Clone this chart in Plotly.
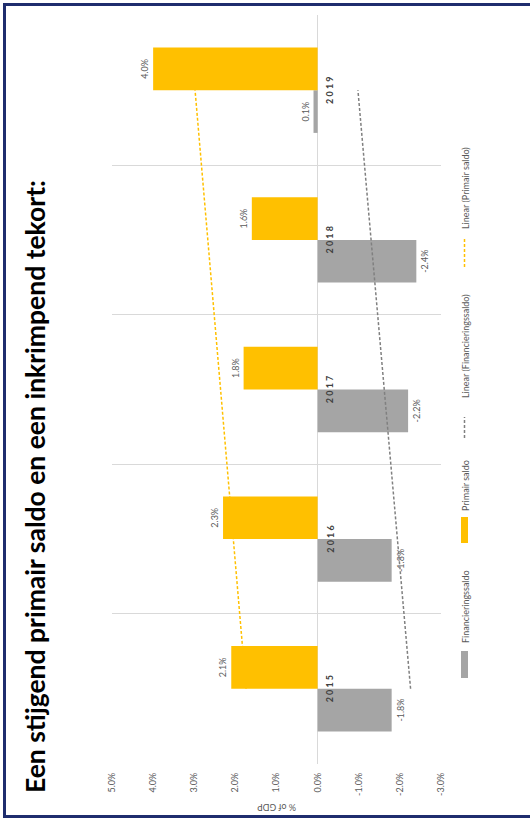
import numpy as np
import plotly.graph_objects as go

# Data (% of GDP)
years = ["2015", "2016", "2017", "2018", "2019"]
financieringssaldo = [-1.8, -1.8, -2.2, -2.4, 0.1]
primair_saldo = [2.1, 2.3, 1.8, 1.6, 4.0]
x_ticks = [5.0, 4.0, 3.0, 2.0, 1.0, 0.0, -1.0, -2.0, -3.0]
x_ticktext = ["5.0%", "4.0%", "3.0%", "2.0%", "1.0%", "0.0%", "-1.0%", "-2.0%", "-3.0%"]

title_text = "Een stijgend primair saldo en een inkrimpend tekort:"
legend_names = ["Financieringssaldo", "Primair saldo",
                "Linear (Financieringssaldo)", "Linear (Primair saldo)"]

GREY = "#A5A5A5"
YELLOW = "#FFC000"
TEXT = "#595959"
NAVY = "#1F2D6E"

W, H = 530, 818
L, R, T, B = 112, 441, 15, 764  # plot area in pixels


def px(x):
    return (x - L) / (R - L)


def py(y):
    return (B - y) / (B - T)


pos = list(range(len(years)))

# Linear trendlines fitted on the series
fin_fit = np.polyval(np.polyfit(pos, financieringssaldo, 1), pos)
prim_fit = np.polyval(np.polyfit(pos, primair_saldo, 1), pos)

fig = go.Figure()

fig.add_trace(go.Scatter(
    x=fin_fit, y=pos, mode="lines", showlegend=False,
    line=dict(color="#808080", width=1.5, dash="3px,2px"), hoverinfo="skip"))
fig.add_trace(go.Scatter(
    x=prim_fit, y=pos, mode="lines", showlegend=False,
    line=dict(color=YELLOW, width=1.5, dash="3px,2px"), hoverinfo="skip"))

fig.add_trace(go.Bar(
    x=financieringssaldo, y=pos, orientation="h", name="Financieringssaldo",
    marker=dict(color=GREY, line=dict(width=0)),
    texttemplate="%{x:.1f}%", textposition="outside", textangle=-90,
    constraintext="none", cliponaxis=False,
    textfont=dict(size=9, color=TEXT), showlegend=False))
fig.add_trace(go.Bar(
    x=primair_saldo, y=pos, orientation="h", name="Primair saldo",
    marker=dict(color=YELLOW, line=dict(width=0)),
    texttemplate="%{x:.1f}%", textposition="outside", textangle=-90,
    constraintext="none", cliponaxis=False,
    textfont=dict(size=9, color=TEXT), showlegend=False))

annotations = []

# Year labels next to the zero line
for i, yr in enumerate(years):
    annotations.append(dict(
        x=0, y=i, xref="x", yref="y", text="<b>" + " ".join(yr) + "</b>",
        textangle=-90, showarrow=False, xshift=12,
        font=dict(size=9, color="#404040"), xanchor="center", yanchor="middle"))

# Axis title
annotations.append(dict(
    x=px(277), y=py(808), xref="paper", yref="paper", text="% of GDP",
    textangle=180, showarrow=False, font=dict(size=9, color=TEXT),
    xanchor="center", yanchor="middle"))

# Main title
annotations.append(dict(
    x=px(35), y=py(487), xref="paper", yref="paper", text="<b>" + title_text + "</b>",
    textangle=-90, showarrow=False, font=dict(size=26.5, color="#000000"),
    xanchor="center", yanchor="middle"))

shapes = []

# Legend
legend_text_centers = [607, 486, 346, 188]
for name, yc in zip(legend_names, legend_text_centers):
    annotations.append(dict(
        x=px(465), y=py(yc), xref="paper", yref="paper", text=name,
        textangle=-90, showarrow=False, font=dict(size=9, color=TEXT),
        xanchor="center", yanchor="middle"))

shapes.append(dict(type="rect", xref="paper", yref="paper",
                   x0=px(461), x1=px(468), y0=py(678), y1=py(651),
                   fillcolor=GREY, line=dict(width=0)))
shapes.append(dict(type="rect", xref="paper", yref="paper",
                   x0=px(461), x1=px(468), y0=py(543), y1=py(517),
                   fillcolor=YELLOW, line=dict(width=0)))
shapes.append(dict(type="line", xref="paper", yref="paper",
                   x0=px(464.5), x1=px(464.5), y0=py(438), y1=py(417),
                   line=dict(color="#808080", width=1.5, dash="3px,2px")))
shapes.append(dict(type="line", xref="paper", yref="paper",
                   x0=px(464.5), x1=px(464.5), y0=py(267), y1=py(237),
                   line=dict(color=YELLOW, width=1.5, dash="3px,2px")))

# Frame
shapes.append(dict(type="rect", xref="paper", yref="paper",
                   x0=px(4.5), x1=px(540), y0=py(816.5), y1=py(4.5),
                   line=dict(color=NAVY, width=3), fillcolor="rgba(0,0,0,0)"))

fig.update_layout(
    width=W, height=H,
    margin=dict(l=L, r=W - R, t=T, b=H - B, pad=0),
    paper_bgcolor="white", plot_bgcolor="white",
    font=dict(family="Lato, Open Sans, sans-serif", color=TEXT),
    barmode="group", bargap=0.43, bargroupgap=0,
    xaxis=dict(
        range=[5.0, -3.0], tickvals=x_ticks, ticktext=x_ticktext,
        tickangle=-90, tickfont=dict(size=9, color=TEXT), ticks="",
        ticklabelstandoff=6, showgrid=False,
        zeroline=True, zerolinecolor="#D9D9D9", zerolinewidth=1, showline=False),
    yaxis=dict(
        range=[-0.503, 4.503], tick0=0.5, dtick=1, showticklabels=False,
        showgrid=True, gridcolor="#D9D9D9", gridwidth=1, zeroline=False,
        showline=False, ticks=""),
    annotations=annotations, shapes=shapes,
    showlegend=False,
)

fig.write_html("out.html")
